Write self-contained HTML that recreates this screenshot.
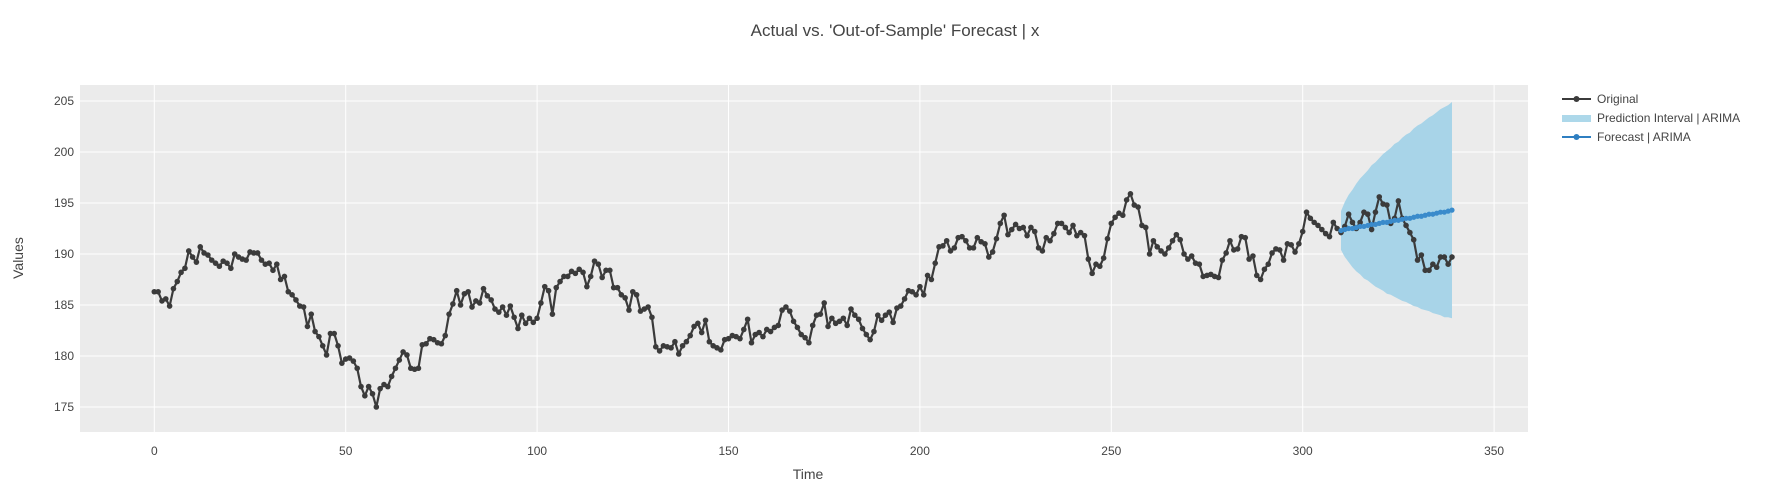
<!DOCTYPE html>
<html><head><meta charset="utf-8"><style>
html,body{margin:0;padding:0;background:#fff;}
svg{display:block;font-family:"Liberation Sans",Arial,sans-serif;}
</style></head><body>
<svg id="chart" width="1773" height="488" viewBox="0 0 1773 488">
<rect x="0" y="0" width="1773" height="488" fill="#fff"/>
<rect x="80" y="85" width="1448" height="347" fill="#ebebeb"/>
<g id="grid"></g>
<g id="band"></g>
<g id="orig"></g>
<g id="fc"></g>
<g id="ticks"></g>
<text x="895" y="36" text-anchor="middle" font-size="17" fill="#444">Actual vs. 'Out-of-Sample' Forecast | x</text>
<text x="808" y="479" text-anchor="middle" font-size="14" fill="#444">Time</text>
<text x="23" y="258" text-anchor="middle" font-size="14" fill="#444" transform="rotate(-90 23 258)">Values</text>
<g>
<g>
<line x1="1562" y1="99" x2="1591" y2="99" stroke="#3b3b3b" stroke-width="2"/>
<circle cx="1576.5" cy="99" r="3" fill="#3b3b3b"/>
<text x="1597" y="103" font-size="12" fill="#444">Original</text>
</g>
<g>
<rect x="1562" y="115" width="29" height="7" fill="#add8ea"/>
<text x="1597" y="122" font-size="12" fill="#444">Prediction Interval | ARIMA</text>
</g>
<g>
<line x1="1562" y1="137" x2="1591" y2="137" stroke="#2f7fc1" stroke-width="2"/>
<circle cx="1576.5" cy="137" r="3" fill="#2f7fc1"/>
<text x="1597" y="141" font-size="12" fill="#444">Forecast | ARIMA</text>
</g>
</g>
</svg>
<script>
const original = [
186.3,186.3,185.4,185.6,184.9,186.6,187.3,188.2,188.6,190.3,
189.7,189.2,190.7,190.1,189.9,189.4,189.1,188.8,189.3,189.1,
188.6,190.0,189.7,189.5,189.4,190.2,190.1,190.1,189.4,189.0,
189.1,188.4,189.0,187.5,187.8,186.3,186.0,185.5,184.9,184.8,
182.9,184.1,182.4,181.9,181.0,180.1,182.2,182.2,181.0,179.3,
179.7,179.8,179.5,178.8,177.0,176.1,177.0,176.3,175.0,176.8,177.2,177.0,178.0,
178.8,179.6,180.4,180.1,178.8,178.7,178.8,181.1,181.2,181.7,181.6,181.3,181.2,182.0,184.1,185.1,186.4,185.0,186.1,186.3,184.8,185.4,185.2,186.6,185.9,185.5,184.6,184.3,184.8,184.0,184.9,183.8,182.7,
184.0,183.2,183.7,183.3,183.7,
185.2,186.8,186.4,184.1,186.7,187.3,187.8,187.8,188.3,188.1,188.5,188.2,186.8,187.8,189.3,189.0,187.7,188.4,188.4,186.7,186.7,186.0,185.7,184.5,186.3,186.0,184.4,184.6,184.8,183.8,
180.9,180.5,181.0,180.9,180.8,181.4,180.2,181.0,181.4,182.0,182.9,183.2,182.3,183.5,181.4,181.0,180.8,180.6,181.6,181.7,182.0,181.9,181.7,182.6,
183.6,181.3,182.1,182.3,181.9,182.6,182.4,182.8,183.0,184.5,184.8,184.4,183.4,182.8,182.1,181.8,181.3,183.0,
184.0,184.1,185.2,182.9,183.7,183.2,183.4,183.7,183.0,184.6,184.0,183.6,182.7,182.1,181.6,182.4,184.0,183.5,184.0,184.3,183.3,184.7,184.9,185.6,186.4,186.3,186.0,186.8,186.0,187.9,187.5,189.1,
190.7,190.8,191.3,190.3,190.6,191.6,191.7,191.3,190.6,190.6,191.6,191.2,191.0,189.7,190.2,191.5,193.0,193.8,191.9,192.4,192.9,192.5,192.6,191.8,192.6,192.2,190.6,190.3,191.6,191.3,192.0,193.0,193.0,192.6,192.1,192.8,191.8,192.1,191.8,
189.5,188.1,189.0,188.8,189.6,191.5,193.0,193.6,194.0,193.8,195.3,195.9,194.8,194.6,192.8,192.6,190.0,191.3,190.7,190.3,190.0,190.6,191.3,191.9,191.4,190.0,189.5,189.8,189.1,189.0,187.8,187.9,188.0,187.8,187.7,189.4,190.1,191.3,190.4,190.5,191.7,191.6,189.5,189.8,187.9,187.5,188.5,189.0,190.1,190.5,190.4,189.4,191.0,
190.9,190.2,191.0,192.2,194.1,193.5,193.1,192.8,192.4,192.0,191.7,193.1,192.5,192.1,192.7,193.9,193.1,192.5,193.1,194.1,193.9,192.4,194.1,195.6,194.9,194.8,193.0,193.5,195.2,193.5,192.8,192.1,191.4,189.4,189.9,188.4,188.4,189.0,188.7,189.7,189.7,189.0,189.7
];
const forecastStart = 310;
const forecast = [192.3,192.4,192.5,192.5,192.6,192.7,192.7,192.8,192.9,192.9,193.0,193.1,193.1,193.2,193.3,193.3,193.4,193.5,193.5,193.6,193.7,193.7,193.8,193.9,193.9,194.0,194.1,194.1,194.2,194.3];
const upper = [194.2,195.1,195.8,196.3,196.9,197.4,197.8,198.2,198.7,199.0,199.4,199.8,200.1,200.4,200.8,201.0,201.4,201.7,201.9,202.3,202.6,202.8,203.1,203.4,203.6,203.9,204.2,204.4,204.6,204.9];
const lower = [190.4,189.7,189.2,188.7,188.3,188.0,187.6,187.4,187.1,186.8,186.6,186.4,186.1,186.0,185.8,185.6,185.4,185.3,185.1,184.9,184.8,184.6,184.5,184.4,184.2,184.1,184.0,183.8,183.8,183.7];
const xTicks = [0,50,100,150,200,250,300,350];
const yTicks = [175,180,185,190,195,200,205];

const NS = "http://www.w3.org/2000/svg";
function xs(v){ return 154.3 + 3.828 * v; }
function ys(v){ return 254 - 10.2 * (v - 190); }
function mk(tag, attrs, parent){ const e = document.createElementNS(NS, tag); for (const k in attrs) e.setAttribute(k, attrs[k]); parent.appendChild(e); return e; }

const grid = document.getElementById('grid');
const ticks = document.getElementById('ticks');
xTicks.forEach(t => {
  const l = mk('line', {x1: xs(t), x2: xs(t), y1: 85, y2: 432, stroke: '#fff', 'stroke-width': 1}, grid);
  
  
  const tx = mk('text', {x: xs(t), y: 455, 'text-anchor': 'middle', 'font-size': 12, fill: '#444'}, ticks);
  tx.textContent = t;
  
  
});
yTicks.forEach(t => {
  const l = mk('line', {x1: 80, x2: 1528, y1: ys(t), y2: ys(t), stroke: '#fff', 'stroke-width': 1}, grid);
  
  
  const tx = mk('text', {x: 74, y: ys(t) + 4, 'text-anchor': 'end', 'font-size': 12, fill: '#444'}, ticks);
  tx.textContent = t;
  
  
});

const band = document.getElementById('band');
let pts = [];
upper.forEach((v, i) => pts.push(xs(forecastStart + i) + ',' + ys(v)));
for (let i = lower.length - 1; i >= 0; i--) pts.push(xs(forecastStart + i) + ',' + ys(lower[i]));
const poly = mk('polygon', {points: pts.join(' '), fill: '#a8d4e8'}, band);



const orig = document.getElementById('orig');
const op = original.map((v, i) => xs(i) + ',' + ys(v)).join(' ');
const ol = mk('polyline', {points: op, fill: 'none', stroke: '#3b3b3b', 'stroke-width': 2.2, 'stroke-linejoin': 'round'}, orig);


original.forEach((v, i) => {
  const c = mk('circle', {cx: xs(i), cy: ys(v), r: 2.8, fill: '#3b3b3b'}, orig);
  
  
});

const fc = document.getElementById('fc');
const fp = forecast.map((v, i) => xs(forecastStart + i) + ',' + ys(v)).join(' ');
const fl = mk('polyline', {points: fp, fill: 'none', stroke: '#3a8bcb', 'stroke-width': 3.5, 'stroke-opacity': 0.9}, fc);


forecast.forEach((v, i) => {
  const c = mk('circle', {cx: xs(forecastStart + i), cy: ys(v), r: 2.6, fill: '#3a8bcb'}, fc);
  
  
});
</script>
</body></html>
